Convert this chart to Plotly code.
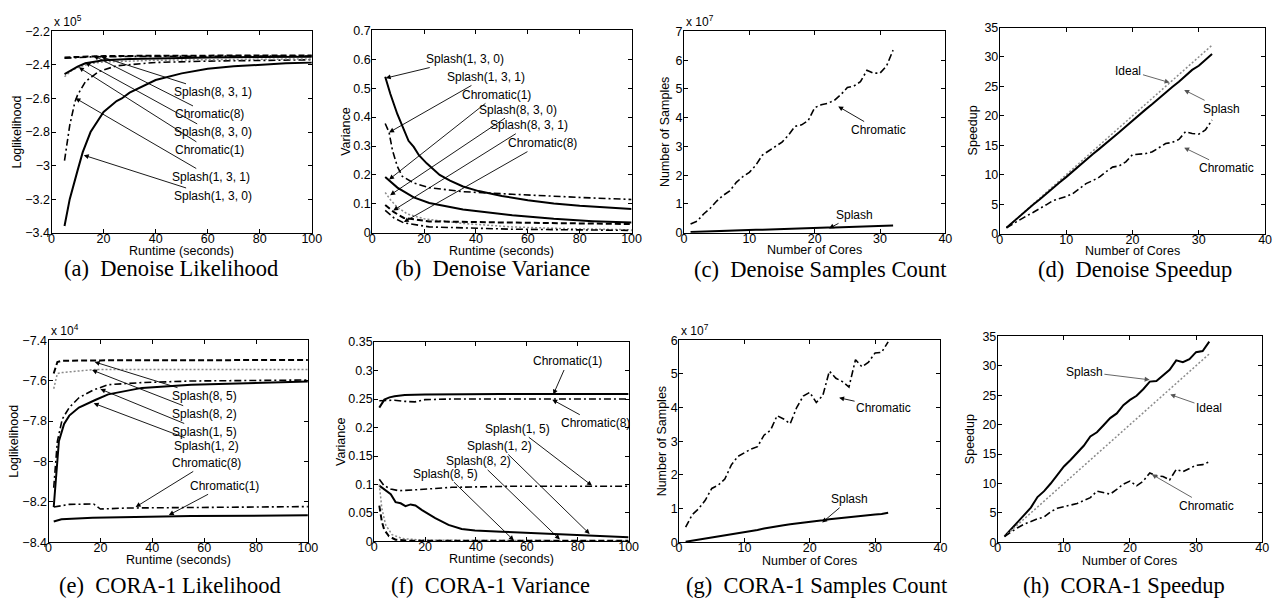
import plotly.graph_objects as go

# ---------------- data ----------------
# (a) Denoise likelihood (y shown in units of 1e5)
a_s130_x = [5, 7, 10, 12, 15, 20, 25, 27, 30, 40, 50, 60, 70, 80, 90, 100]
a_s130_y = [-3.36, -3.2, -3.03, -2.92, -2.8, -2.68, -2.615, -2.6, -2.565, -2.49, -2.45, -2.423, -2.408, -2.398, -2.39, -2.386]
a_s131_x = [5, 7, 9, 10, 13, 18, 25, 40, 60, 80, 100]
a_s131_y = [-2.97, -2.76, -2.62, -2.58, -2.5, -2.44, -2.405, -2.385, -2.377, -2.372, -2.369]
a_c1_x = [5, 8, 11, 15, 20, 40, 70, 100]
a_c1_y = [-2.47, -2.43, -2.41, -2.392, -2.382, -2.372, -2.367, -2.364]
a_s830_x = [5, 8, 10, 13, 15, 20, 30, 40, 60, 80, 100]
a_s830_y = [-2.455, -2.425, -2.41, -2.39, -2.384, -2.372, -2.364, -2.36, -2.356, -2.353, -2.351]
a_c8_x = [5, 10, 15, 30, 60, 100]
a_c8_y = [-2.36, -2.355, -2.352, -2.349, -2.347, -2.346]
a_s831_x = [5, 10, 20, 40, 70, 100]
a_s831_y = [-2.355, -2.351, -2.347, -2.345, -2.344, -2.343]

# (b) Denoise variance
b_s130_x = [5, 7, 9.7, 12.2, 14, 16, 18, 21, 26, 30, 35, 41, 50, 60, 70, 80, 90, 100]
b_s130_y = [0.54, 0.48, 0.41, 0.353, 0.318, 0.297, 0.268, 0.24, 0.2, 0.18, 0.16, 0.144, 0.127, 0.112, 0.101, 0.093, 0.087, 0.082]
b_s131_x = [5, 6.5, 7.8, 9.7, 11.6, 16, 22, 35, 54, 70, 85, 100]
b_s131_y = [0.378, 0.347, 0.285, 0.229, 0.195, 0.172, 0.156, 0.142, 0.133, 0.125, 0.12, 0.115]
b_c1_x = [5, 9.7, 16, 22, 35, 54, 70, 85, 100]
b_c1_y = [0.193, 0.156, 0.122, 0.103, 0.08, 0.06, 0.048, 0.04, 0.035]
b_s830_x = [5, 7, 9.7, 13.5, 20, 35, 54, 75, 100]
b_s830_y = [0.139, 0.114, 0.088, 0.065, 0.048, 0.032, 0.02, 0.014, 0.01]
b_s831_x = [5, 8.4, 12.2, 22, 54, 75, 100]
b_s831_y = [0.096, 0.071, 0.051, 0.039, 0.035, 0.032, 0.03]
b_c8_x = [5, 8.4, 12.2, 22, 54, 100]
b_c8_y = [0.077, 0.051, 0.034, 0.02, 0.012, 0.008]

# (c) Denoise samples count (units of 1e7), (d) Denoise speedup
cores = list(range(1, 33))
c_chromatic = [0.3, 0.4, 0.65, 0.85, 1.1, 1.3, 1.45, 1.75, 1.95, 2.1, 2.35, 2.7, 2.85, 3.0, 3.15, 3.4,
               3.7, 3.75, 3.9, 4.35, 4.45, 4.5, 4.6, 4.8, 5.05, 5.1, 5.25, 5.65, 5.55, 5.55, 5.8, 6.35]
c_splash = [0.02, 0.03, 0.04, 0.05, 0.05, 0.06, 0.07, 0.08, 0.08, 0.09, 0.1, 0.1, 0.11, 0.12, 0.13, 0.13,
            0.14, 0.15, 0.16, 0.16, 0.17, 0.18, 0.18, 0.19, 0.2, 0.21, 0.21, 0.22, 0.23, 0.24, 0.24, 0.25]
d_splash = [1.0, 2.0, 3.0, 3.9, 4.9, 5.8, 6.8, 7.7, 8.7, 9.6, 10.6, 11.5, 12.5, 13.5, 14.4, 15.3,
            16.3, 17.2, 18.2, 19.2, 20.1, 21.1, 22.0, 23.0, 23.9, 24.9, 25.8, 26.8, 27.8, 28.5, 29.5, 30.5]
d_chromatic = [1.0, 1.7, 2.4, 3.0, 3.6, 4.2, 4.9, 5.6, 5.9, 6.3, 6.8, 7.6, 8.5, 9.0, 9.6, 10.5,
               11.3, 11.5, 12.2, 13.4, 13.5, 13.6, 13.9, 14.6, 15.3, 15.5, 16.0, 17.3, 17.0, 16.9, 17.6, 19.3]
ideal = [float(c) for c in cores]

# (e) CORA-1 likelihood (units of 1e4)
e_s85_x = [2, 3.4, 5, 20, 60, 100]
e_s85_y = [-7.565, -7.508, -7.502, -7.5, -7.499, -7.498]
e_s82_x = [2, 3.4, 5.3, 14, 18, 60, 100]
e_s82_y = [-7.64, -7.565, -7.56, -7.548, -7.545, -7.545, -7.545]
e_s15_x = [2, 3.4, 5.3, 8, 11.7, 17, 23, 36, 55, 100]
e_s15_y = [-8.13, -7.9, -7.79, -7.733, -7.685, -7.648, -7.62, -7.61, -7.602, -7.597]
e_s12_x = [2, 3, 4, 6, 8, 11.7, 15.5, 18, 23, 36, 55, 80, 100]
e_s12_y = [-8.225, -8.05, -7.9, -7.814, -7.773, -7.733, -7.709, -7.696, -7.668, -7.636, -7.62, -7.61, -7.605]
e_c8_x = [2, 8, 17.4, 20, 30, 55, 100]
e_c8_y = [-8.225, -8.212, -8.21, -8.235, -8.23, -8.227, -8.223]
e_c1_x = [2, 5, 17, 36, 55, 100]
e_c1_y = [-8.297, -8.286, -8.278, -8.273, -8.27, -8.266]

# (f) CORA-1 variance
f_c1_x = [2, 3, 4, 6, 8, 12, 20, 50, 100]
f_c1_y = [0.235, 0.243, 0.249, 0.253, 0.255, 0.257, 0.258, 0.259, 0.259]
f_c8_x = [2, 8, 12, 16, 20, 30, 60, 100]
f_c8_y = [0.247, 0.248, 0.246, 0.245, 0.249, 0.25, 0.25, 0.25]
f_s15_x = [2, 3.9, 6.5, 9.7, 17.5, 30.5, 56, 100]
f_s15_y = [0.109, 0.098, 0.092, 0.089, 0.091, 0.095, 0.097, 0.097]
f_s12_x = [2, 3.9, 6.5, 8.4, 10.4, 12.3, 14.3, 16.2, 18.8, 24, 29.2, 34.4, 39.6, 50, 60, 70, 80, 90, 100]
f_s12_y = [0.098, 0.092, 0.083, 0.069, 0.067, 0.062, 0.065, 0.063, 0.055, 0.041, 0.029, 0.022, 0.019,
           0.017, 0.015, 0.014, 0.012, 0.009, 0.0075]
f_s82_x = [2, 3, 4.5, 7, 11, 20, 100]
f_s82_y = [0.1, 0.058, 0.029, 0.012, 0.005, 0.002, 0.001]
f_s85_x = [2, 3, 3.9, 5.8, 8.4, 15, 100]
f_s85_y = [0.063, 0.035, 0.021, 0.009, 0.003, 0.001, 0.001]

# (g) CORA-1 samples count (units of 1e7), (h) CORA-1 speedup
g_chromatic = [0.45, 0.82, 1.0, 1.25, 1.6, 1.7, 1.88, 2.3, 2.55, 2.67, 2.77, 2.84, 3.18, 3.33, 3.76, 3.66,
               3.52, 4.0, 4.34, 4.45, 4.15, 4.36, 5.08, 4.87, 4.77, 4.61, 5.42, 5.21, 5.35, 5.62, 5.64, 5.95]
g_splash = [0.02, 0.05, 0.08, 0.11, 0.14, 0.18, 0.21, 0.24, 0.27, 0.31, 0.34, 0.37, 0.41, 0.45, 0.48, 0.51,
            0.54, 0.56, 0.59, 0.62, 0.64, 0.66, 0.69, 0.71, 0.74, 0.76, 0.79, 0.79, 0.81, 0.83, 0.84, 0.88]
h_splash = [1.0, 2.2, 3.4, 4.6, 5.9, 7.7, 8.7, 10.0, 11.4, 12.9, 14.0, 15.2, 16.4, 18.0, 18.7, 19.9,
            21.1, 21.9, 23.3, 24.2, 24.9, 26.0, 27.3, 27.4, 28.3, 29.3, 30.9, 30.6, 31.1, 32.3, 32.5, 34.1]
h_chromatic = [1.0, 1.8, 2.5, 3.1, 3.6, 4.0, 4.3, 5.2, 5.8, 6.1, 6.3, 6.6, 7.1, 7.6, 8.7, 8.5,
               8.2, 9.0, 9.9, 10.4, 9.6, 10.4, 11.8, 11.3, 11.2, 10.6, 12.4, 12.0, 12.5, 13.1, 13.2, 13.7]

# ---------------- styles / layout ----------------
W, H = 1285, 609
SANS = "Liberation Sans"
SERIF = "Liberation Serif"
SOLID = dict(color="black", width=2, dash="solid")
DASH = dict(color="black", width=2, dash="6px,3px")
DASHDOT = dict(color="black", width=1.6, dash="7px,3px,2px,3px")
DOT = dict(color="#8a8a8a", width=1.5, dash="2px,2px")

# plot-area boxes in pixels (left, top, right, bottom)
boxes = [(49, 25, 312, 231), (373, 24, 635, 231), (688, 25, 952, 231), (1007, 21, 1275, 232),
         (46, 341, 308, 548), (375, 343, 632, 547), (683, 341, 947, 548), (1005, 337, 1272, 548)]


def refs(i):
    return ("x" if i == 1 else "x%d" % i), ("y" if i == 1 else "y%d" % i)


fig = go.Figure()


def line(i, x, y, style):
    xa, ya = refs(i)
    fig.add_trace(go.Scatter(x=x, y=y, mode="lines", line=style, xaxis=xa, yaxis=ya,
                             showlegend=False, hoverinfo="skip"))


line(1, a_s130_x, a_s130_y, SOLID)
line(1, a_s131_x, a_s131_y, DASHDOT)
line(1, a_c1_x, a_c1_y, DOT)
line(1, a_s830_x, a_s830_y, SOLID)
line(1, a_c8_x, a_c8_y, DASHDOT)
line(1, a_s831_x, a_s831_y, DASH)

line(2, b_s130_x, b_s130_y, SOLID)
line(2, b_s131_x, b_s131_y, DASHDOT)
line(2, b_c1_x, b_c1_y, SOLID)
line(2, b_s830_x, b_s830_y, DOT)
line(2, b_s831_x, b_s831_y, DASH)
line(2, b_c8_x, b_c8_y, DASHDOT)

line(3, cores, c_chromatic, DASHDOT)
line(3, cores, c_splash, SOLID)

line(4, cores, ideal, DOT)
line(4, cores, d_splash, SOLID)
line(4, cores, d_chromatic, DASHDOT)

line(5, e_s85_x, e_s85_y, DASH)
line(5, e_s82_x, e_s82_y, DOT)
line(5, e_s15_x, e_s15_y, DASHDOT)
line(5, e_s12_x, e_s12_y, SOLID)
line(5, e_c8_x, e_c8_y, DASHDOT)
line(5, e_c1_x, e_c1_y, SOLID)

line(6, f_c1_x, f_c1_y, SOLID)
line(6, f_c8_x, f_c8_y, DASHDOT)
line(6, f_s15_x, f_s15_y, DASHDOT)
line(6, f_s12_x, f_s12_y, SOLID)
line(6, f_s82_x, f_s82_y, DOT)
line(6, f_s85_x, f_s85_y, DASH)

line(7, cores, g_chromatic, DASHDOT)
line(7, cores, g_splash, SOLID)

line(8, cores, h_splash, SOLID)
line(8, cores, ideal, DOT)
line(8, cores, h_chromatic, DASHDOT)

# axis setup: x range, x dtick, y range, y dtick, x title, y title, y-title offset,
# x-title offset, exponent
panels = [
    ([0, 100], 20, [-3.4, -2.2], 0.2, "Runtime (seconds)", "Loglikelihood", 34, 18, "5"),
    ([0, 100], 20, [0, 0.7], 0.1, "Runtime (seconds)", "Variance", 27, 18, None),
    ([0, 40], 10, [0, 7], 1, "Number of Cores", "Number of Samples", 19, 17.5, "7"),
    ([0, 40], 10, [0, 35], 5, "Number of Cores", "Speedup", 27, 17.5, None),
    ([0, 100], 20, [-8.4, -7.4], 0.2, "Runtime (seconds)", "Loglikelihood", 34, 18, "4"),
    ([0, 100], 20, [0, 0.35], 0.05, "Runtime (seconds)", "Variance", 33, 18, None),
    ([0, 40], 10, [0, 6], 1, "Number of Cores", "Number of Samples", 17, 19, "7"),
    ([0, 40], 10, [0, 35], 5, "Number of Cores", "Speedup", 28, 19, None),
]
captions = [
    ("(a)\u00a0\u00a0Denoise Likelihood", 170, 268), ("(b)\u00a0\u00a0Denoise Variance", 494, 268),
    ("(c)\u00a0\u00a0Denoise Samples Count", 826, 269), ("(d)\u00a0\u00a0Denoise Speedup", 1144, 269),
    ("(e)\u00a0\u00a0CORA-1 Likelihood", 169, 592), ("(f)\u00a0\u00a0CORA-1 Variance", 492, 592),
    ("(g)\u00a0\u00a0CORA-1 Samples Count", 822, 592), ("(h)\u00a0\u00a0CORA-1 Speedup", 1132, 592),
]

layout = {}
annotations = []
tickfont = dict(family=SANS, size=12.5, color="black")
for i, (xr, xd, yr, yd, xt, yt, yoff, xoff, expo) in enumerate(panels, start=1):
    l, t, r, b = boxes[i - 1]
    xa, ya = refs(i)
    common = dict(ticks="inside", ticklen=4, tickcolor="black", showline=True, mirror="ticks",
                  linecolor="black", linewidth=1, showgrid=False, zeroline=False,
                  tickfont=tickfont, tick0=0)
    layout["xaxis" if i == 1 else "xaxis%d" % i] = dict(
        domain=[l / W, r / W], anchor=ya, range=xr, dtick=xd, ticklabelstandoff=-6, **common)
    layout["yaxis" if i == 1 else "yaxis%d" % i] = dict(
        domain=[1 - b / H, 1 - t / H], anchor=xa, range=yr, dtick=yd, ticklabelstandoff=-2, **common)
    annotations.append(dict(xref=xa + " domain", yref=ya + " domain", x=0.5, y=0, yshift=-xoff,
                            xanchor="center", yanchor="middle", text=xt, showarrow=False,
                            font=dict(family=SANS, size=12.5, color="black")))
    annotations.append(dict(xref=xa + " domain", yref=ya + " domain", x=0, y=0.5, xshift=-yoff,
                            xanchor="center", yanchor="middle", text=yt, textangle=-90,
                            showarrow=False, font=dict(family=SANS, size=12.5, color="black")))
    if expo:
        annotations.append(dict(xref=xa + " domain", yref=ya + " domain", x=0, y=1, xanchor="left",
                                yanchor="bottom", text="x 10<sup>%s</sup>" % expo, showarrow=False,
                                font=dict(family=SANS, size=12, color="black")))
    cap, cx, cy = captions[i - 1]
    annotations.append(dict(xref="paper", yref="paper", x=cx / W, y=1 - cy / H, xanchor="center",
                            yanchor="middle", text=cap, showarrow=False,
                            font=dict(family=SERIF, size=22.5, color="black")))


def arrow(i, text, hx, hy, tx, ty, color="black"):
    xa, ya = refs(i)
    annotations.append(dict(xref=xa, yref=ya, x=hx, y=hy, axref=xa, ayref=ya, ax=tx, ay=ty,
                            text=text, showarrow=True, arrowhead=2, arrowsize=1.1, arrowwidth=0.9,
                            arrowcolor=color, font=dict(family=SANS, size=12, color="black")))


arrow(1, "Splash(8, 3, 1)", 19.1, -2.351, 61.9, -2.563)
arrow(1, "Chromatic(8)", 16.2, -2.345, 60.8, -2.695)
arrow(1, "Splash(8, 3, 0)", 13.0, -2.385, 61.9, -2.802)
arrow(1, "Chromatic(1)", 10.5, -2.414, 60.8, -2.909)
arrow(1, "Splash(1, 3, 1)", 9.2, -2.598, 61.2, -3.068)
arrow(1, "Splash(1, 3, 0)", 12.4, -2.938, 61.9, -3.184)

arrow(2, "Splash(1, 3, 0)", 5.2, 0.535, 35.8, 0.601)
arrow(2, "Splash(1, 3, 1)", 6.5, 0.347, 44.0, 0.539)
arrow(2, "Chromatic(1)", 6.5, 0.184, 47.8, 0.477)
arrow(2, "Splash(8, 3, 0)", 6.9, 0.13, 56.1, 0.426)
arrow(2, "Splash(8, 3, 1)", 8.1, 0.077, 60.6, 0.372)
arrow(2, "Chromatic(8)", 12.2, 0.037, 65.6, 0.31)

arrow(3, "Chromatic", 23.6, 4.39, 29.8, 3.57)
arrow(3, "Splash", 22.2, 0.15, 26.1, 0.62)

arrow(4, "Ideal", 25.6, 25.65, 19.4, 27.7, "#555555")
arrow(4, "Splash", 27.8, 24.4, 33.4, 21.2, "#555555")
arrow(4, "Chromatic", 27.8, 14.6, 34.2, 11.1, "#555555")

arrow(5, "Splash(8, 5)", 17.8, -7.508, 60.3, -7.677)
arrow(5, "Splash(8, 2)", 16.8, -7.548, 60.3, -7.766)
arrow(5, "Splash(1, 5)", 20.0, -7.642, 60.3, -7.854)
arrow(5, "Splash(1, 2)", 17.4, -7.712, 61.1, -7.924)
arrow(5, "Chromatic(8)", 33.6, -8.225, 61.1, -8.007)
arrow(5, "Chromatic(1)", 46.4, -8.265, 67.7, -8.12)

arrow(6, "Chromatic(1)", 70.4, 0.258, 76.1, 0.316)
arrow(6, "Chromatic(8)", 70.0, 0.249, 86.9, 0.2076)
arrow(6, "Splash(1, 5)", 85.6, 0.098, 56.4, 0.198)
arrow(6, "Splash(1, 2)", 84.7, 0.013, 49.3, 0.1676)
arrow(6, "Splash(8, 2)", 73.0, 0.0034, 41.1, 0.1407)
arrow(6, "Splash(8, 5)", 54.9, 0.0017, 27.9, 0.119)

arrow(7, "Chromatic", 24.5, 4.29, 31.3, 4.0)
arrow(7, "Splash", 21.9, 0.59, 26.1, 1.28)

arrow(8, "Splash", 22.97, 27.6, 13.1, 28.97, "#555555")
arrow(8, "Ideal", 26.1, 25.1, 31.96, 22.8, "#555555")
arrow(8, "Chromatic", 23.3, 11.56, 31.6, 6.19, "#555555")

fig.update_layout(width=W, height=H, margin=dict(l=0, r=0, t=0, b=0),
                  paper_bgcolor="white", plot_bgcolor="white",
                  annotations=annotations, **layout)
# drop the browser's default 8px body margin so the figure fills the window exactly
fig.write_html("out.html", config={"displayModeBar": False},
               post_script="document.body.style.margin='0';")
